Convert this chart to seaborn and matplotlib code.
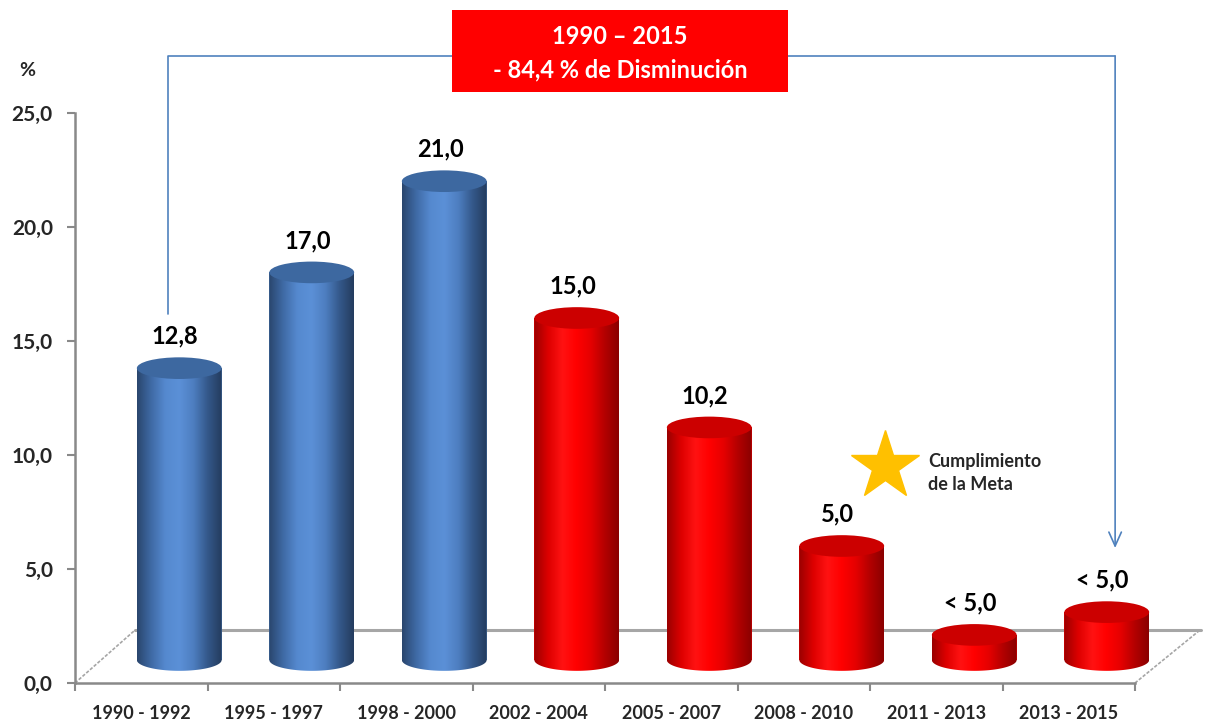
import numpy as np
import pandas as pd
import matplotlib
matplotlib.use("Agg")
import matplotlib.pyplot as plt
import matplotlib.patches as mpatches
import matplotlib.transforms as mtransforms
from matplotlib.colors import LinearSegmentedColormap
import seaborn as sns

# datos
periodos = ['1990 - 1992', '1995 - 1997', '1998 - 2000', '2002 - 2004',
            '2005 - 2007', '2008 - 2010', '2011 - 2013', '2013 - 2015']
valores = [12.8, 17.0, 21.0, 15.0, 10.2, 5.0, 1.1, 2.1]
etiquetas = ['12,8', '17,0', '21,0', '15,0', '10,2', '5,0', '< 5,0', '< 5,0']
grupos = ['antes', 'antes', 'antes', 'despues', 'despues', 'despues', 'despues', 'despues']
yticks = [0, 5, 10, 15, 20, 25]
ytick_labels = ['0,0', '5,0', '10,0', '15,0', '20,0', '25,0']

sns.set_style('ticks')
plt.rcParams['font.family'] = ['Lato', 'DejaVu Sans']

fig = plt.figure(figsize=(12.05, 7.23), dpi=100)
ax = fig.add_axes([75 / 1205, 40 / 723, 1060 / 1205, 570 / 723])

df = pd.DataFrame({'periodo': periodos, 'valor': valores, 'grupo': grupos})
sns.barplot(data=df, x='periodo', y='valor', hue='grupo',
            palette={'antes': '#4F81BD', 'despues': '#FF0000'},
            dodge=False, width=0.64, saturation=1, legend=False, ax=ax, zorder=3)

# efecto 3D: desplazamiento de profundidad para los cilindros
shifted = ax.transData + mtransforms.ScaledTranslation(38 / 100, 23 / 100, fig.dpi_scale_trans)
cmaps = {
    'antes': LinearSegmentedColormap.from_list('azul', ['#2a466d', '#3f6aa5', '#5589cf', '#5b90d7',
                                                        '#4d7ec0', '#34588a', '#243c5e']),
    'despues': LinearSegmentedColormap.from_list('rojo', ['#9a0000', '#dd0000', '#ff1212', '#ff0000',
                                                          '#e60000', '#b40000', '#8a0000']),
}
tapas = {'antes': '#3d68a0', 'despues': '#cc0000'}
eh = 0.95
grad = np.linspace(0, 1, 256).reshape(1, -1)

for p in list(ax.patches):
    x0, w, h = p.get_x(), p.get_width(), p.get_height()
    xc = x0 + w / 2
    i = int(round(xc))
    g = grupos[i]
    p.set_transform(shifted)
    p.set_clip_on(False)
    p.set_edgecolor('none')

    t = np.linspace(np.pi, 2 * np.pi, 80)
    arc = np.column_stack([xc + w / 2 * np.cos(t), eh / 2 * np.sin(t)])
    body = mpatches.Polygon(np.vstack([[x0, h], arc, [x0 + w, h]]), closed=True, transform=shifted)
    im = ax.imshow(grad, cmap=cmaps[g], aspect='auto', interpolation='bilinear',
                   extent=(x0, x0 + w, -eh / 2, h), zorder=3.1)
    im.set_transform(shifted)
    im.set_clip_path(body)
    im.set_clip_box(fig.bbox)

    top = mpatches.Ellipse((xc, h), w, eh, facecolor=tapas[g], edgecolor='none',
                           transform=shifted, zorder=4, clip_on=False)
    ax.add_patch(top)

    ax.annotate(etiquetas[i], xy=(xc, h), xycoords=shifted, xytext=(-3, 23),
                textcoords='offset points', ha='center', va='center',
                fontsize=17, fontweight='bold', color='black', annotation_clip=False)

ax.set_xlim(-0.5, 7.5)
ax.set_ylim(0, 25)

# suelo 3D
ax.plot([-0.047, 8.0], [2.32, 2.32], color='#a6a6a6', lw=2.2, zorder=1, clip_on=False)
ax.plot([-0.5, -0.047], [0, 2.32], color='#a6a6a6', lw=1.2, ls=(0, (2, 1)), zorder=1, clip_on=False)
ax.plot([7.5, 7.99], [0, 2.32], color='#a6a6a6', lw=1.2, ls=(0, (2, 1)), zorder=1, clip_on=False)

# ejes
sns.despine(ax=ax)
for s in ['left', 'bottom']:
    ax.spines[s].set_color('#898989')
    ax.spines[s].set_linewidth(1.8)
ax.set_yticks(yticks)
ax.set_yticklabels(ytick_labels, fontsize=15, fontweight='bold')
ax.tick_params(axis='y', length=6, width=1.5, color='#898989', pad=10, left=True)
ax.set_xticks(range(len(periodos)))
ax.set_xticklabels(periodos, fontsize=13, fontweight='bold')
ax.set_xticks(np.arange(-0.5, len(periodos), 1), minor=True)
ax.tick_params(axis='x', which='major', length=0, pad=16)
ax.tick_params(axis='x', which='minor', length=6, width=1.5, color='#898989', bottom=True)
ax.set_xlabel('')
ax.set_ylabel('')

# corchete con flecha
azul = '#4F81BD'
ax.plot([0.202, 0.202, 7.35], [16.2, 27.5, 27.5], color=azul, lw=1.2, clip_on=False, zorder=5)
ax.annotate('', xy=(7.35, 5.92), xytext=(7.35, 27.5),
            arrowprops=dict(arrowstyle='->,head_length=1.0,head_width=0.45', color=azul, lw=1.2,
                            shrinkA=0, shrinkB=0), annotation_clip=False)

fig.add_artist(mpatches.Rectangle((452 / 1205, 631 / 723), 336 / 1205, 82 / 723,
                                  transform=fig.transFigure, facecolor='#FF0000',
                                  edgecolor='none', zorder=10))
fig.text(620 / 1205, 1 - 36 / 723, '1990 – 2015', color='white', fontsize=17,
         fontweight='bold', ha='center', va='center', zorder=11)
fig.text(620 / 1205, 1 - 70 / 723, '- 84,4 % de Disminución', color='white', fontsize=17,
         fontweight='bold', ha='center', va='center', zorder=11)

fig.text(27 / 1205, 1 - 70 / 723, '%', fontsize=14, fontweight='bold', ha='center', va='center')

# estrella de cumplimiento
ax.plot(5.613, 9.52, marker='*', markersize=52, color='#FFC000', clip_on=False, zorder=5)
fig.text(928 / 1205, 1 - 473 / 723, 'Cumplimiento\nde la Meta', fontsize=13,
         fontweight='bold', ha='left', va='center', linespacing=1.4)

fig.savefig('out.png', dpi=100)
